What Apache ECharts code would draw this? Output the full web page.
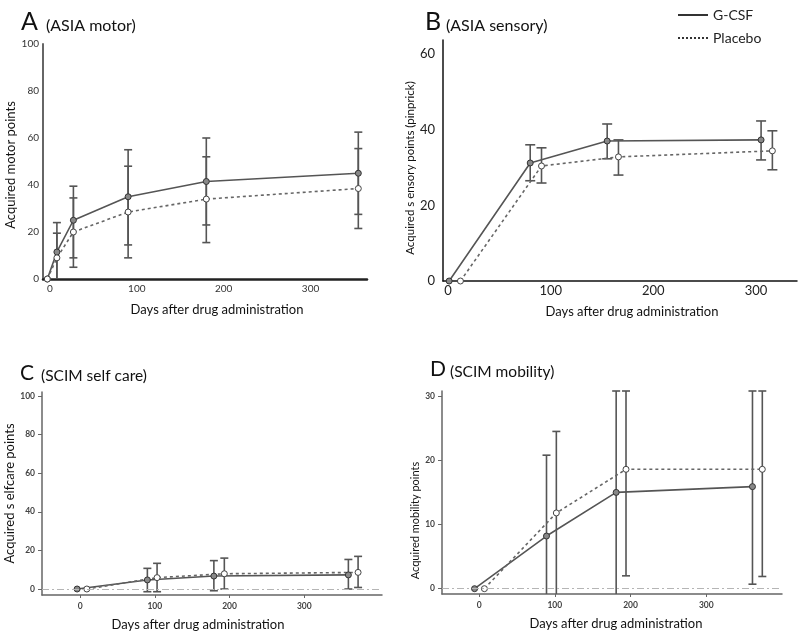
<!DOCTYPE html>
<html>
<head>
<meta charset="utf-8">
<script src="https://cdn.jsdelivr.net/npm/echarts@6/dist/echarts.min.js"></script>
<style>
  html, body { margin: 0; padding: 0; background: #fff; }
  #chart { width: 800px; height: 635px; }
</style>
</head>
<body>
<div id="chart"></div>
<script>
'use strict';
// panel A: ASIA motor
const gcsfDaysA = [-3, 8, 27, 90, 180, 355];
const gcsfMeanA = [0, 11.5, 25, 35, 41.5, 45];
const gcsfLowA = [null, -1, 9, 14.5, 23, 27.5];
const gcsfHighA = [null, 24, 39.5, 55, 60, 62.5];
const placeboDaysA = [-3, 8, 27, 90, 180, 355];
const placeboMeanA = [0, 9, 20, 28.5, 34, 38.5];
const placeboLowA = [null, -1, 5, 9, 15.5, 21.5];
const placeboHighA = [null, 19.5, 34.5, 48, 52, 55.5];

// panel B: ASIA sensory
const gcsfDaysB = [1, 80, 155, 305];
const gcsfMeanB = [0, 31.2, 37, 37.3];
const gcsfLowB = [null, 26.5, 32.3, 32];
const gcsfHighB = [null, 36, 41.5, 42.3];
const placeboDaysB = [12, 91, 166, 316];
const placeboMeanB = [0, 30.4, 32.8, 34.4];
const placeboLowB = [null, 25.9, 28, 29.4];
const placeboHighB = [null, 35.2, 37.3, 39.7];

// panel C: SCIM self care
const gcsfDaysC = [-4, 90, 179, 359];
const gcsfMeanC = [0, 4.7, 6.7, 7.3];
const gcsfLowC = [null, -1.4, -0.9, 0];
const gcsfHighC = [null, 10.7, 14.7, 15.3];
const placeboDaysC = [9, 103, 193, 372];
const placeboMeanC = [0, 5.9, 7.9, 8.6];
const placeboLowC = [null, -1.4, 0, 0.8];
const placeboHighC = [null, 13.3, 16, 16.9];

// panel D: SCIM mobility
const gcsfDaysD = [-6, 89, 181, 361];
const gcsfMeanD = [0, 8.2, 15.0, 15.9];
const gcsfLowD = [null, -2, -2, 0.7];
const gcsfHighD = [null, 20.8, 31, 31];
const placeboDaysD = [7, 102, 194, 374];
const placeboMeanD = [0, 11.8, 18.6, 18.6];
const placeboLowD = [null, -2, 2.0, 1.9];
const placeboHighD = [null, 24.5, 31, 31];

const dayTicks = [0, 100, 200, 300];
const motorTicks = [0, 20, 40, 60, 80, 100];
const sensoryTicks = [0, 20, 40, 60];
const selfcareTicks = [0, 20, 40, 60, 80, 100];
const mobilityTicks = [0, 10, 20, 30];

const titles = [['A', '(ASIA motor)'], ['B', '(ASIA sensory)'], ['C', '(SCIM self care)'], ['D', '(SCIM mobility)']];
const xName = 'Days after drug administration';
const yNames = ['Acquired motor points', 'Acquired s ensory points (pinprick)', 'Acquired s elfcare points', 'Acquired mobility points'];

const FONT = 'Lato';
const LINE = '#555';

{
    let dom = document.getElementById('chart');
    let myChart = echarts.init(dom);

    let pairs = (xs, ys) => xs.map((d, k) => [d, ys[k]]);
    let bars = (xs, lo, hi) => xs.map((d, k) => [d, lo[k], hi[k]]).filter(r => r[1] != null);

    let errorBar = function (capHalf) {
        return function (params, api) {
            let x = api.value(0), lo = api.value(1), hi = api.value(2);
            let cs = params.coordSys;
            let top = api.coord([x, hi]);
            let bot = api.coord([x, lo]);
            let yt = Math.max(top[1], cs.y);
            let yb = Math.min(bot[1], cs.y + cs.height);
            let cx = top[0];
            let style = {stroke: LINE, lineWidth: 1.6};
            let children = [
                {type: 'line', shape: {x1: cx, y1: yt, x2: cx, y2: yb}, style: style},
                {type: 'line', shape: {x1: cx - capHalf, y1: yt, x2: cx + capHalf, y2: yt}, style: style}
            ];
            if (bot[1] <= cs.y + cs.height) {
                children.push({type: 'line', shape: {x1: cx - capHalf, y1: yb, x2: cx + capHalf, y2: yb}, style: style});
            }
            return {type: 'group', children: children};
        };
    };

    let panels = [
        [gcsfDaysA, gcsfMeanA, gcsfLowA, gcsfHighA, placeboDaysA, placeboMeanA, placeboLowA, placeboHighA],
        [gcsfDaysB, gcsfMeanB, gcsfLowB, gcsfHighB, placeboDaysB, placeboMeanB, placeboLowB, placeboHighB],
        [gcsfDaysC, gcsfMeanC, gcsfLowC, gcsfHighC, placeboDaysC, placeboMeanC, placeboLowC, placeboHighC],
        [gcsfDaysD, gcsfMeanD, gcsfLowD, gcsfHighD, placeboDaysD, placeboMeanD, placeboLowD, placeboHighD]
    ];
    let caps = [4, 5, 4, 4];

    // legend-only series so the legend shows plain lines
    let hidden = {color: 'rgba(0,0,0,0)', borderWidth: 0};
    let series = [
        {name: 'G-CSF', type: 'line', data: [], symbol: 'none', itemStyle: hidden, lineStyle: {color: '#333', width: 1.5}},
        {name: 'Placebo', type: 'line', data: [], symbol: 'none', itemStyle: hidden, lineStyle: {color: '#333', width: 1.5, type: [2, 2]}}
    ];

    panels.forEach(function (p, i) {
        series.push({
            name: 'G-CSF', type: 'custom', xAxisIndex: i, yAxisIndex: i,
            renderItem: errorBar(caps[i]), encode: {x: 0, y: [1, 2]},
            data: bars(p[0], p[2], p[3]), z: 1
        });
        series.push({
            name: 'Placebo', type: 'custom', xAxisIndex: i, yAxisIndex: i,
            renderItem: errorBar(caps[i]), encode: {x: 0, y: [1, 2]},
            data: bars(p[4], p[6], p[7]), z: 1
        });
        let gLine = {
            name: 'G-CSF', type: 'line', xAxisIndex: i, yAxisIndex: i,
            data: pairs(p[0], p[1]),
            symbol: 'circle', symbolSize: 6, z: 3,
            lineStyle: {color: LINE, width: 1.6},
            itemStyle: {color: '#888', borderColor: '#333', borderWidth: 1}
        };
        if (i >= 2) {
            gLine.markLine = {
                silent: true, symbol: 'none', label: {show: false},
                lineStyle: {color: '#b5b5b5', width: 1, type: [7, 3, 2, 3]},
                data: [{yAxis: 0}]
            };
        }
        series.push(gLine);
        series.push({
            name: 'Placebo', type: 'line', xAxisIndex: i, yAxisIndex: i,
            data: pairs(p[4], p[5]),
            symbol: 'circle', symbolSize: 6, z: 3,
            lineStyle: {color: '#666', width: 1.6, type: [3, 3]},
            itemStyle: {color: '#fff', borderColor: '#444', borderWidth: 1}
        });
    });

    let grids = [
        {left: 43, top: 44, width: 324, height: 235},
        {left: 443, top: 40, width: 354, height: 241},
        {left: 42, top: 392, width: 340, height: 203},
        {left: 442, top: 391, width: 340, height: 203}
    ];

    let xAxes = [
        {gridIndex: 0, type: 'value', min: -8, max: 365,
            axisLine: {lineStyle: {color: '#222', width: 2.5}}, axisTick: {show: false},
            axisLabel: {customValues: dayTicks, color: '#333', fontSize: 10, margin: 5, fontFamily: FONT},
            name: xName, nameLocation: 'middle', nameGap: 24,
            nameTextStyle: {fontSize: 13, color: '#111', fontFamily: FONT, padding: [0, 0, 0, 24]}},
        {gridIndex: 1, type: 'value', min: -5, max: 340,
            axisLine: {lineStyle: {color: '#111', width: 1.5}}, axisTick: {show: false},
            axisLabel: {customValues: dayTicks, color: '#222', fontSize: 13, margin: 3, fontFamily: FONT},
            name: xName, nameLocation: 'middle', nameGap: 24,
            nameTextStyle: {fontSize: 13, color: '#111', fontFamily: FONT, padding: [0, 0, 0, 24]}},
        {gridIndex: 2, type: 'value', min: -51, max: 404,
            axisLine: {lineStyle: {color: '#666', width: 1.5}},
            axisTick: {customValues: dayTicks, length: 3, lineStyle: {color: '#666'}},
            axisLabel: {customValues: dayTicks, color: '#444', fontSize: 8.5, fontWeight: 'bold', margin: 7, fontFamily: FONT},
            name: xName, nameLocation: 'middle', nameGap: 23,
            nameTextStyle: {fontSize: 13, color: '#111', fontFamily: FONT, padding: [0, 28, 0, 0]}},
        {gridIndex: 3, type: 'value', min: -49, max: 400,
            axisLine: {lineStyle: {color: '#666', width: 1.5}},
            axisTick: {customValues: dayTicks, length: 3, lineStyle: {color: '#666'}},
            axisLabel: {customValues: dayTicks, color: '#444', fontSize: 8.5, fontWeight: 'bold', margin: 7, fontFamily: FONT},
            name: xName, nameLocation: 'middle', nameGap: 23,
            nameTextStyle: {fontSize: 13, color: '#111', fontFamily: FONT, padding: [0, 0, 0, 8]}}
    ];
    xAxes.forEach(a => { a.splitLine = {show: false}; a.axisLine.onZero = false; });

    let yAxes = [
        {gridIndex: 0, type: 'value', min: 0, max: 100,
            axisLine: {show: true, lineStyle: {color: '#666', width: 2}}, axisTick: {show: false},
            axisLabel: {customValues: motorTicks, color: '#333', fontSize: 10, margin: 4, fontFamily: FONT},
            name: yNames[0], nameLocation: 'middle', nameGap: 18,
            nameTextStyle: {fontSize: 13, color: '#111', fontFamily: FONT, padding: [0, 7, 0, 0]}},
        {gridIndex: 1, type: 'value', min: 0, max: 63.7,
            axisLine: {show: true, lineStyle: {color: '#111', width: 1.5}}, axisTick: {show: false},
            axisLabel: {customValues: sensoryTicks, color: '#222', fontSize: 13, margin: 8, fontFamily: FONT},
            name: yNames[1], nameLocation: 'middle', nameGap: 25,
            nameTextStyle: {fontSize: 11.5, color: '#111', fontFamily: FONT, padding: [0, 15, 0, 0]}},
        {gridIndex: 2, type: 'value', min: -3.1, max: 102,
            axisLine: {show: true, lineStyle: {color: '#666', width: 1.5}},
            axisTick: {customValues: selfcareTicks, length: 4, lineStyle: {color: '#666'}},
            axisLabel: {customValues: selfcareTicks, color: '#444', fontSize: 8.5, fontWeight: 'bold', margin: 7, fontFamily: FONT},
            name: yNames[2], nameLocation: 'middle', nameGap: 23,
            nameTextStyle: {fontSize: 13, color: '#111', fontFamily: FONT}},
        {gridIndex: 3, type: 'value', min: -0.83, max: 30.8,
            axisLine: {show: true, lineStyle: {color: '#666', width: 1.5}},
            axisTick: {customValues: mobilityTicks, length: 4, lineStyle: {color: '#666'}},
            axisLabel: {customValues: mobilityTicks, color: '#444', fontSize: 8.5, fontWeight: 'bold', margin: 7, fontFamily: FONT},
            name: yNames[3], nameLocation: 'middle', nameGap: 21,
            nameTextStyle: {fontSize: 11, color: '#111', fontFamily: FONT, padding: [0, 56, 0, 0]}}
    ];
    yAxes.forEach(a => { a.splitLine = {show: false}; a.axisLine.onZero = false; });

    // panel letters and headings
    let titleSpots = [[21, 46, 33], [425, 446, 33], [20, 41, 383], [430, 450, 379]];
    let bigSize = [25, 25, 21, 21];
    let smallSize = [16, 16, 15.5, 15.5];
    let graphic = [];
    titles.forEach(function (t, i) {
        let s = titleSpots[i];
        graphic.push({type: 'text', left: s[0], top: s[2] - bigSize[i] * 0.95,
            style: {text: t[0], font: bigSize[i] + 'px ' + FONT, fill: '#111'}});
        graphic.push({type: 'text', left: s[1], top: s[2] - smallSize[i] * 0.95,
            style: {text: t[1], font: smallSize[i] + 'px ' + FONT, fill: '#111'}});
    });

    let option = {
        backgroundColor: '#fff',
        animation: false,
        textStyle: {fontFamily: FONT},
        legend: {
            data: ['G-CSF', 'Placebo'],
            orient: 'vertical',
            left: 672, top: 3,
            itemWidth: 30, itemHeight: 14, itemGap: 9,
            itemStyle: {color: 'rgba(0,0,0,0)', borderWidth: 0},
            textStyle: {fontSize: 14, color: '#222', fontFamily: FONT}
        },
        grid: grids,
        xAxis: xAxes,
        yAxis: yAxes,
        graphic: graphic,
        series: series
    };
    if (option && typeof option === 'object') {
        myChart.setOption(option, true);
    }
}
</script>
</body>
</html>
